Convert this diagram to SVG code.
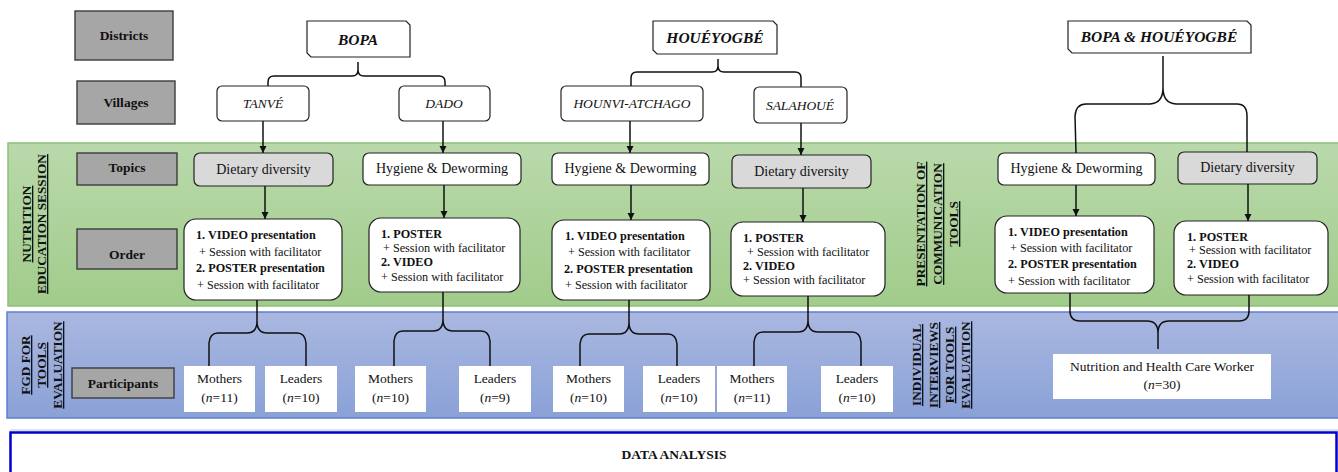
<svg xmlns="http://www.w3.org/2000/svg" width="1338" height="472" viewBox="0 0 1338 472" font-family="'Liberation Serif', 'Times New Roman', 'DejaVu Serif', serif">
<style>
text{font-family:'Liberation Serif','Times New Roman',Times,'DejaVu Serif',serif;fill:#111}
.lbl{fill:#a6a6a6;stroke:#3c3c3c;stroke-width:1.4}
.lt{font-size:13.5px;font-weight:bold;text-anchor:middle}
.dist{fill:#fff;stroke:#222;stroke-width:1.2}
.dt{font-size:15.5px;font-weight:bold;font-style:italic;text-anchor:middle}
.vil{fill:#fff;stroke:#222;stroke-width:1.2}
.vt{font-size:13.5px;font-style:italic;text-anchor:middle}
.topw{fill:#fff;stroke:#222;stroke-width:1.2}
.topg{fill:#d9d9d9;stroke:#222;stroke-width:1.2}
.tt{font-size:14px;text-anchor:middle}
.ord{fill:#fff;stroke:#222;stroke-width:1.2}
.ob{font-size:12.2px;font-weight:bold}
.on{font-size:12.2px}
.par{fill:#fff}
.pt{font-size:13.5px;text-anchor:middle}
.vert{font-size:13.3px;font-weight:bold;text-anchor:middle;text-decoration:underline}
.con{fill:none;stroke:#111;stroke-width:1.5}
</style>
<defs>
<linearGradient id="gG" x1="0" y1="0" x2="0" y2="1"><stop offset="0" stop-color="#b9d9ab"/><stop offset="1" stop-color="#a1cc8b"/></linearGradient>
<linearGradient id="gB" x1="0" y1="0" x2="0" y2="1"><stop offset="0" stop-color="#aab8e1"/><stop offset="1" stop-color="#8aa1d7"/></linearGradient>
<marker id="ah" markerUnits="userSpaceOnUse" markerWidth="8" markerHeight="8" refX="7" refY="3.5" orient="auto"><path d="M0,0 L7,3.5 L0,7 z" fill="#111"/></marker>
</defs>

<g id="bands">
<rect x="8" y="143" width="1331" height="163" fill="url(#gG)" stroke="#8cc174" stroke-width="1.5"/>
<rect x="7" y="312" width="1332" height="106" fill="url(#gB)" stroke="#5b80cf" stroke-width="1.5"/>
<line x1="10" y1="430" x2="1338" y2="430" stroke="#b4c4ee" stroke-width="1"/>
</g>

<g id="section-labels">
<g transform="translate(31,224) rotate(-90)"><text class="vert" x="0" y="0">NUTRITION</text></g>
<g transform="translate(46,224) rotate(-90)"><text class="vert" x="0" y="0">EDUCATION SESSION</text></g>
<g transform="translate(30,365) rotate(-90)"><text class="vert" x="0" y="0">FGD FOR</text></g>
<g transform="translate(46,365) rotate(-90)"><text class="vert" x="0" y="0">TOOLS</text></g>
<g transform="translate(62,365) rotate(-90)"><text class="vert" x="0" y="0">EVALUATION</text></g>
<g transform="translate(925,224) rotate(-90)"><text class="vert" x="0" y="0">PRESENTATION OF</text></g>
<g transform="translate(942,224) rotate(-90)"><text class="vert" x="0" y="0">COMMUNICATION</text></g>
<g transform="translate(958,224) rotate(-90)"><text class="vert" x="0" y="0">TOOLS</text></g>
<g transform="translate(921,365) rotate(-90)"><text class="vert" x="0" y="0">INDIVIDUAL</text></g>
<g transform="translate(938,365) rotate(-90)"><text class="vert" x="0" y="0">INTERVIEWS</text></g>
<g transform="translate(954,365) rotate(-90)"><text class="vert" x="0" y="0">FOR TOOLS</text></g>
<g transform="translate(970,365) rotate(-90)"><text class="vert" x="0" y="0">EVALUATION</text></g>
</g>

<g id="lbl-districts"><rect class="lbl" x="75" y="11" width="98" height="49"/><text class="lt" x="124" y="40">Districts</text></g>
<g id="lbl-villages"><rect class="lbl" x="77" y="81" width="98" height="43"/><text class="lt" x="126" y="107">Villages</text></g>
<g id="lbl-topics"><rect class="lbl" x="77" y="153" width="100" height="32"/><text class="lt" x="127" y="172">Topics</text></g>
<g id="lbl-order"><rect class="lbl" x="77" y="229" width="100" height="40"/><text class="lt" x="127" y="259">Order</text></g>
<g id="lbl-participants"><rect class="lbl" x="72" y="368" width="102" height="30"/><text class="lt" x="123" y="388">Participants</text></g>

<g id="d-bopa"><path class="dist" d="M307,21 H406 L410,25 V57 H311 L307,53 Z"/><text class="dt" x="358" y="45">BOPA</text></g>
<g id="d-houeyogbe"><path class="dist" d="M653,21 H773 L777,25 V54 H657 L653,50 Z"/><text class="dt" x="715" y="43">HOUÉYOGBÉ</text></g>
<g id="d-both"><path class="dist" d="M1068,21 H1247 L1251,25 V53 H1072 L1068,49 Z"/><text class="dt" x="1159" y="42">BOPA &amp; HOUÉYOGBÉ</text></g>

<g id="v-tanve"><rect class="vil" x="217" y="86" width="92" height="35" rx="5"/><text class="vt" x="263" y="108">TANVÉ</text></g>
<g id="v-dado"><rect class="vil" x="399" y="86" width="91" height="35" rx="5"/><text class="vt" x="444" y="108">DADO</text></g>
<g id="v-hounvi"><rect class="vil" x="561" y="86" width="142" height="35" rx="5"/><text class="vt" x="632" y="108">HOUNVI-ATCHAGO</text></g>
<g id="v-salahoue"><rect class="vil" x="754" y="87" width="93" height="36" rx="5"/><text class="vt" x="800" y="110">SALAHOUÉ</text></g>

<g id="t1"><rect class="topg" x="194" y="153" width="139" height="33" rx="6"/><text class="tt" x="263.5" y="174">Dietary diversity</text></g>
<g id="t2"><rect class="topw" x="363" y="153" width="158" height="32" rx="6"/><text class="tt" x="442" y="173">Hygiene &amp; Deworming</text></g>
<g id="t3"><rect class="topw" x="552" y="153" width="157" height="32" rx="6"/><text class="tt" x="630.5" y="173">Hygiene &amp; Deworming</text></g>
<g id="t4"><rect class="topg" x="732" y="155" width="139" height="33" rx="6"/><text class="tt" x="801.5" y="176">Dietary diversity</text></g>
<g id="t5"><rect class="topw" x="998" y="153" width="157" height="32" rx="6"/><text class="tt" x="1076.5" y="173">Hygiene &amp; Deworming</text></g>
<g id="t6"><rect class="topg" x="1178" y="152" width="139" height="32" rx="6"/><text class="tt" x="1247.5" y="172">Dietary diversity</text></g>

<g id="o1"><rect class="ord" x="184" y="219" width="158" height="81" rx="12"/>
<text class="ob" x="196" y="239">1. VIDEO presentation</text>
<text class="on" x="199" y="256">+ Session with facilitator</text>
<text class="ob" x="196" y="272">2. POSTER presentation</text>
<text class="on" x="197" y="289">+ Session with facilitator</text></g>
<g id="o2"><rect class="ord" x="369" y="218" width="151" height="74" rx="12"/>
<text class="ob" x="381" y="238">1. POSTER</text>
<text class="on" x="383" y="252">+ Session with facilitator</text>
<text class="ob" x="381" y="266">2. VIDEO</text>
<text class="on" x="381" y="281">+ Session with facilitator</text></g>
<g id="o3"><rect class="ord" x="552" y="220" width="158" height="80" rx="12"/>
<text class="ob" x="565" y="240">1. VIDEO presentation</text>
<text class="on" x="568" y="256">+ Session with facilitator</text>
<text class="ob" x="564" y="273">2. POSTER presentation</text>
<text class="on" x="565" y="289">+ Session with facilitator</text></g>
<g id="o4"><rect class="ord" x="731" y="222" width="154" height="74" rx="12"/>
<text class="ob" x="743" y="242">1. POSTER</text>
<text class="on" x="747" y="256">+ Session with facilitator</text>
<text class="ob" x="743" y="270">2. VIDEO</text>
<text class="on" x="743" y="284">+ Session with facilitator</text></g>
<g id="o5"><rect class="ord" x="995" y="216" width="159" height="77" rx="12"/>
<text class="ob" x="1008" y="236">1. VIDEO presentation</text>
<text class="on" x="1010" y="252">+ Session with facilitator</text>
<text class="ob" x="1008" y="268">2. POSTER presentation</text>
<text class="on" x="1008" y="285">+ Session with facilitator</text></g>
<g id="o6"><rect class="ord" x="1174" y="221" width="154" height="74" rx="12"/>
<text class="ob" x="1187" y="241">1. POSTER</text>
<text class="on" x="1189" y="254">+ Session with facilitator</text>
<text class="ob" x="1187" y="268">2. VIDEO</text>
<text class="on" x="1187" y="283">+ Session with facilitator</text></g>

<g id="p1"><rect class="par" x="184" y="366" width="71" height="46"/><text class="pt" x="219.5" y="383">Mothers</text><text class="pt" x="219.5" y="402">(<tspan font-style="italic">n</tspan>=11)</text></g>
<g id="p2"><rect class="par" x="265" y="366" width="72" height="46"/><text class="pt" x="301" y="383">Leaders</text><text class="pt" x="301" y="402">(<tspan font-style="italic">n</tspan>=10)</text></g>
<g id="p3"><rect class="par" x="355" y="366" width="71" height="46"/><text class="pt" x="390.5" y="383">Mothers</text><text class="pt" x="390.5" y="402">(<tspan font-style="italic">n</tspan>=10)</text></g>
<g id="p4"><rect class="par" x="459" y="366" width="72" height="46"/><text class="pt" x="495" y="383">Leaders</text><text class="pt" x="495" y="402">(<tspan font-style="italic">n</tspan>=9)</text></g>
<g id="p5"><rect class="par" x="553" y="366" width="71" height="46"/><text class="pt" x="588.5" y="383">Mothers</text><text class="pt" x="588.5" y="402">(<tspan font-style="italic">n</tspan>=10)</text></g>
<g id="p6"><rect class="par" x="643" y="366" width="72" height="46"/><text class="pt" x="679" y="383">Leaders</text><text class="pt" x="679" y="402">(<tspan font-style="italic">n</tspan>=10)</text></g>
<g id="p7"><rect class="par" x="717" y="366" width="70" height="46"/><text class="pt" x="752" y="383">Mothers</text><text class="pt" x="752" y="402">(<tspan font-style="italic">n</tspan>=11)</text></g>
<g id="p8"><rect class="par" x="821" y="366" width="72" height="46"/><text class="pt" x="857" y="383">Leaders</text><text class="pt" x="857" y="402">(<tspan font-style="italic">n</tspan>=10)</text></g>
<g id="p9"><rect class="par" x="1053" y="354" width="218" height="45"/><text class="pt" x="1162" y="371">Nutrition and Health Care Worker</text><text class="pt" x="1162" y="389">(<tspan font-style="italic">n</tspan>=30)</text></g>

<g id="data-analysis"><rect x="10.5" y="432.5" width="1326" height="60" fill="#fff" stroke="#0000cc" stroke-width="2.5"/><text class="lt" x="674" y="459">DATA ANALYSIS</text></g>

<g id="connectors">
<path class="con" d="M358,62 L358,70 Q358,76 352,76 L274,76 Q268,76 268,82 L268,86 M358,70 Q358,76 364,76 L439,76 Q445,76 445,82 L445,86"/>
<path class="con" d="M718,59 L718,66 Q718,72 712,72 L637,72 Q631,72 631,78 L631,86 M718,66 Q718,72 724,72 L795,72 Q801,72 801,78 L801,87"/>
<path class="con" d="M1163,56 L1163,88 Q1163,103 1150,104 L1086,104 Q1076,104 1075,116 L1076,153 M1163,88 Q1163,103 1176,104 L1237,104 Q1247,104 1247,116 L1247,152"/>
<line class="con" x1="263" y1="121" x2="263" y2="153" marker-end="url(#ah)"/>
<line class="con" x1="443" y1="121" x2="443" y2="153" marker-end="url(#ah)"/>
<line class="con" x1="630" y1="121" x2="630" y2="153" marker-end="url(#ah)"/>
<line class="con" x1="801" y1="123" x2="801" y2="155" marker-end="url(#ah)"/>
<line class="con" x1="265" y1="186" x2="265" y2="219" marker-end="url(#ah)"/>
<line class="con" x1="444" y1="185" x2="444" y2="218" marker-end="url(#ah)"/>
<line class="con" x1="631" y1="185" x2="631" y2="220" marker-end="url(#ah)"/>
<line class="con" x1="803" y1="188" x2="803" y2="222" marker-end="url(#ah)"/>
<line class="con" x1="1076" y1="185" x2="1076" y2="216" marker-end="url(#ah)"/>
<line class="con" x1="1248" y1="184" x2="1248" y2="221" marker-end="url(#ah)"/>
<path class="con" d="M257,300 L257,321 Q257,333 247,333 L218,333 Q210,333 209,343 L209,366 M257,321 Q257,333 267,333 L297,333 Q305,333 306,343 L306,366"/>
<path class="con" d="M443,292 L443,319 Q443,331 433,331 L403,331 Q395,331 394,341 L394,366 M443,319 Q443,331 453,331 L481,331 Q489,331 490,341 L490,366"/>
<path class="con" d="M629,300 L629,322 Q629,334 619,334 L589,334 Q581,334 580,344 L580,366 M629,322 Q629,334 639,334 L668,334 Q676,334 677,344 L677,366"/>
<path class="con" d="M808,296 L808,320 Q808,332 798,332 L763,332 Q755,332 754,342 L754,366 M808,320 Q808,332 818,332 L852,332 Q860,332 861,342 L861,366"/>
<path class="con" d="M1070,293 L1070,311 Q1070,321 1080,321 L1147,321 Q1158,321 1158,333 L1158,349 M1249,295 L1249,311 Q1249,321 1239,321 L1169,321 Q1158,321 1158,333"/>
</g>
</svg>
